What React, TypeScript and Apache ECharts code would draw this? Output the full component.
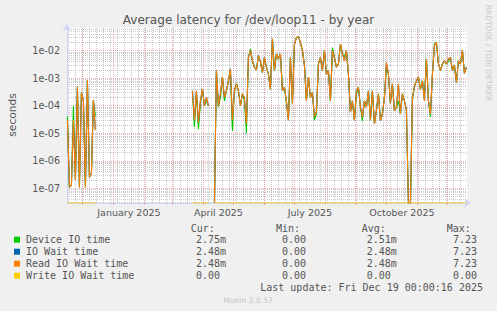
import React, { useEffect, useRef } from 'react';
import * as echarts from 'echarts';

// ---------- texts ----------
const TITLE = 'Average latency for /dev/loop11 - by year';
const Y_NAME = 'seconds';
const WATERMARK = 'RRDTOOL / TOBI OETIKER';
const SERIES_NAMES = ['Device IO time', 'IO Wait time', 'Read IO Wait time', 'Write IO Wait time'];
const SERIES_COLORS = ['#00CC00', '#0066B3', '#FF8000', '#FFCC00'];
const LEGEND_HEADERS = ['Cur:', 'Min:', 'Avg:', 'Max:'];
const LEGEND_CUR = ['2.75m', '2.48m', '2.48m', '0.00'];
const LEGEND_MIN = ['0.00', '0.00', '0.00', '0.00'];
const LEGEND_AVG = ['2.51m', '2.48m', '2.48m', '0.00'];
const LEGEND_MAX = ['7.23', '7.23', '7.23', '0.00'];
const LAST_UPDATE = 'Last update: Fri Dec 19 00:00:16 2025';
const VERSION = 'Munin 2.0.57';

// ---------- axes ----------
const RANGE_START = '2024-11-15T14:00:00Z';
const RANGE_END = '2025-12-20T14:00:00Z';
const MONTH_STARTS = ['2024-12-01', '2025-01-01', '2025-02-01', '2025-03-01', '2025-04-01', '2025-05-01', '2025-06-01', '2025-07-01', '2025-08-01', '2025-09-01', '2025-10-01', '2025-11-01', '2025-12-01'];
const X_LABEL_MONTHS = ['2025-01', '2025-04', '2025-07', '2025-10'];
const X_LABELS = ['January 2025', 'April 2025', 'July 2025', 'October 2025'];
const FIRST_WEEK_LINE = '2024-11-17';
const Y_MIN = 2.92e-8;
const Y_MAX = 0.0667;
const Y_TICKS = [1e-7, 1e-6, 1e-5, 1e-4, 1e-3, 1e-2];

// ---------- data (seconds), one value every 2 days ----------
const STEP_DAYS = 2;
const SEG_STARTS = ['2024-11-16', '2025-03-21', '2025-04-12'];

const deviceA = [4e-5, 1.1e-7, 1.3e-7, 1e-4, 2e-7, 5e-4, 1.1e-7, 3e-4, 1.6e-4, 1.1e-7, 8.6e-4, 2.5e-7, 3.5e-7, 1.6e-4, 4e-5];
const readA = [3e-5, 1.1e-7, 1.3e-7, 3e-5, 2e-7, 5e-4, 1.1e-7, 3e-4, 1.6e-4, 1.1e-7, 8.6e-4, 2.5e-7, 3.5e-7, 1.6e-4, 1.3e-5];
const writeA = [0, 0, 0, 0, 0, 0, 0, 0, 0, 0, 0, 0, 0, 0, 0];

const deviceB = [3.5e-4, 1.7e-5, 3e-4, 1.4e-5, 1.2e-4, 4e-4, 1e-4, 1.5e-4, 1e-4];
const readB = [3.5e-4, 3e-5, 3.5e-4, 2.5e-5, 1.5e-4, 4e-4, 1e-4, 2e-4, 1e-4];
const writeB = [0, 0, 0, 0, 0, 0, 0, 0, 0];

const deviceC = [
  0, 1.9e-3, 9e-5, 2e-4, 1.1e-3, 1.5e-4, 3.5e-4, 8e-4, 2.2e-3, 1.2e-5,
  3.5e-4, 6.2e-4, 3.5e-4, 1e-4, 2.7e-4, 1.5e-4, 1e-5, 5.7e-3, 1.15e-2, 4.3e-3,
  2.5e-3, 2e-3, 6.6e-3, 4e-3, 1.6e-3, 5.7e-3, 2.5e-3, 1.4e-3, 4e-4, 2.7e-2,
  1.9e-3, 7.6e-3, 5e-3, 7.6e-3, 3.5e-4, 4.7e-4, 1.3e-4, 3e-5, 5.7e-3, 1.2e-4,
  1.7e-2, 3e-2, 3.2e-2, 2e-2, 1e-2, 3e-3, 1.5e-4, 1.1e-3, 2e-4, 3e-4,
  3e-5, 5e-5, 3.3e-3, 5.7e-3, 1.9e-3, 1e-2, 1.4e-3, 1.9e-3, 1.5e-4, 1.3e-2,
  5.7e-3, 2.5e-3, 3.3e-3, 1.75e-2, 7.6e-3, 6e-3, 1e-2, 1.4e-3, 6e-5, 1.5e-4,
  3e-5, 2.5e-4, 4.7e-4, 9e-5, 2.8e-5, 1.5e-4, 9e-5, 3.5e-4, 3e-5, 3.5e-4,
  2.2e-5, 6.7e-5, 2.7e-4, 2.9e-5, 5e-5, 2e-4, 2.5e-3, 1.4e-3, 1.2e-4, 6.2e-4,
  6.7e-5, 8.9e-5, 1.5e-4, 5e-5, 2.7e-4, 1.5e-4, 7e-5, 0, 0, 1.5e-4,
  5e-4, 8e-4, 1.1e-3, 4e-4, 8e-4, 2e-4, 5e-3, 1.5e-4, 4e-5, 1.4e-3,
  1.75e-2, 2e-2, 3.3e-3, 1.9e-3, 3.3e-3, 4.3e-3, 3.3e-3, 4e-3, 5.7e-3, 1.9e-3,
  3e-3, 7e-4, 4.3e-3, 3.3e-3, 1e-2, 1.5e-3, 2.5e-3,
];
const readC = [
  0, 1.9e-3, 1e-4, 2.7e-4, 1.1e-3, 2e-4, 3.5e-4, 8e-4, 2.2e-3, 3e-5,
  3.5e-4, 6.2e-4, 3.5e-4, 1e-4, 2.7e-4, 2e-4, 2.2e-5, 5.7e-3, 1e-2, 4.3e-3,
  2.5e-3, 2e-3, 6.6e-3, 4e-3, 1.6e-3, 5.7e-3, 2.5e-3, 1.4e-3, 4e-4, 2.7e-2,
  1.9e-3, 7.6e-3, 5e-3, 7.6e-3, 3.5e-4, 4.7e-4, 1.5e-4, 3e-5, 5.7e-3, 1.2e-4,
  1.7e-2, 3e-2, 3.2e-2, 2e-2, 1e-2, 3e-3, 1.5e-4, 1.1e-3, 2e-4, 3e-4,
  4e-5, 6e-5, 3.3e-3, 5.7e-3, 1.9e-3, 1e-2, 1.4e-3, 1.9e-3, 1.5e-4, 1e-2,
  5.7e-3, 2.5e-3, 3.3e-3, 1.75e-2, 7.6e-3, 4.3e-3, 1e-2, 1.4e-3, 6e-5, 1.5e-4,
  3e-5, 3.5e-4, 4.7e-4, 9e-5, 3.8e-5, 1.5e-4, 9e-5, 3.5e-4, 3e-5, 3.5e-4,
  2.2e-5, 6.7e-5, 2.7e-4, 2.9e-5, 5e-5, 2e-4, 3.8e-3, 1.4e-3, 1.2e-4, 6.2e-4,
  6.7e-5, 8.9e-5, 6.2e-4, 5e-5, 2.7e-4, 1.5e-4, 7e-5, 0, 0, 2e-4,
  5e-4, 8e-4, 1.1e-3, 4e-4, 8e-4, 1.5e-4, 5e-3, 1.5e-4, 5e-5, 1.4e-3,
  1.5e-2, 2e-2, 3.3e-3, 1.9e-3, 3.3e-3, 4.3e-3, 3.3e-3, 5e-3, 5.7e-3, 1.9e-3,
  3e-3, 7e-4, 4.3e-3, 3.3e-3, 1e-2, 1.5e-3, 2.5e-3,
];
const writeC = [
  0, 0, 0, 0, 0, 0, 0, 0, 0, 0, 0, 0, 0, 0, 0, 0, 0, 0, 0, 0,
  0, 0, 0, 0, 0, 0, 0, 0, 0, 0, 0, 0, 0, 0, 0, 0, 0, 0, 0, 0,
  0, 0, 0, 0, 0, 0, 0, 0, 0, 0, 0, 0, 0, 0, 0, 0, 0, 0, 0, 0,
  0, 0, 0, 0, 0, 0, 0, 0, 0, 0, 0, 0, 0, 0, 0, 0, 0, 0, 0, 0,
  0, 0, 0, 0, 0, 0, 0, 0, 0, 0, 0, 0, 0, 0, 0, 0, 0, 0, 0, 0,
  0, 0, 0, 0, 0, 0, 0, 0, 0, 0, 0, 0, 0, 0, 0, 0, 0, 0, 0, 0,
  0, 0, 0, 0, 0, 0, 0,
];
// IO Wait time equals Read IO Wait time (write wait is zero)
const ioWaitA = readA;
const ioWaitB = readB;
const ioWaitC = readC;

// ---------- helpers ----------
const DAY = 86400000;
const ms = (d: string) => Date.parse(d.length <= 10 ? d + 'T00:00:00Z' : d);
const X_MIN = ms(RANGE_START);
const X_MAX = ms(RANGE_END);

function buildSeries(segs: number[][]) {
  const out: any[] = [];
  segs.forEach((vals, si) => {
    const t0 = ms(SEG_STARTS[si]);
    if (si > 0) out.push([t0 - DAY, null]);
    vals.forEach((v, i) => out.push([t0 + i * STEP_DAYS * DAY, Math.max(v, Y_MIN)]));
  });
  return out;
}

const MONTH_TICKS = MONTH_STARTS.map(ms);
const X_LABEL_POS = X_LABEL_MONTHS.map((m) => {
  const [y, mo] = m.split('-').map(Number);
  return (Date.UTC(y, mo - 1, 1) + Date.UTC(y, mo, 1)) / 2;
});
const WEEK_TICKS: number[] = [];
for (let t = ms(FIRST_WEEK_LINE); t < X_MAX; t += 7 * DAY) WEEK_TICKS.push(t);
const Y_MINOR: number[] = [];
for (let k = -8; k <= -1; k++) {
  for (let m = 2; m <= 9; m++) {
    const v = m * Math.pow(10, k);
    if (v > Y_MIN && v < Y_MAX) Y_MINOR.push(v);
  }
}

const FONT = 'DejaVu Sans';
const MONO = 'DejaVu Sans Mono';
const TXT = '#555555';
const MGRID = 'rgba(222,79,79,0.42)';
const GRID = 'rgba(150,150,150,0.5)';
const AXIS = '#CFD6F8';

function txt(x: number, y: number, text: string, opts: any = {}) {
  const align = opts.align || 'left';
  return {
    type: 'text',
    x,
    y,
    rotation: opts.rotation || 0,
    silent: true,
    z: 10,
    style: {
      text,
      x: 0,
      y: 0,
      fill: opts.color || TXT,
      fontFamily: opts.font || FONT,
      fontSize: opts.size || 10,
      align,
      textAlign: align,
      verticalAlign: 'middle',
      textVerticalAlign: 'middle',
    },
  };
}

export default function App() {
  const ref = useRef<HTMLDivElement>(null);
  useEffect(() => {
    const el = ref.current!;
    const chart = echarts.init(el, null, { renderer: 'svg', width: 497, height: 311 });

    const segData = [
      [deviceA, deviceB, deviceC],
      [ioWaitA, ioWaitB, ioWaitC],
      [readA, readB, readC],
      [writeA, writeB, writeC],
    ];

    const graphics: any[] = [];
    graphics.push(txt(248.5, 19.5, TITLE, { align: 'center', size: 12.1 }));
    graphics.push(txt(11.5, 115, Y_NAME, { align: 'center', size: 10.6, rotation: Math.PI / 2 }));
    graphics.push(txt(488, 53, WATERMARK, { align: 'center', size: 7.5, color: '#C8C8C8', rotation: -Math.PI / 2 }));
    const headX = [190.7, 276, 361.7, 446.7];
    LEGEND_HEADERS.forEach((h, i) => graphics.push(txt(headX[i], 228.3, h, { font: MONO })));
    const valX = [196, 282, 366.7, 453];
    const rowY = [239.7, 251.7, 263.7, 275.7];
    SERIES_NAMES.forEach((name, r) => {
      graphics.push({
        type: 'rect',
        shape: { x: 14, y: rowY[r] - 3, width: 6, height: 6 },
        style: { fill: SERIES_COLORS[r] },
        silent: true,
        z: 10,
      });
      graphics.push(txt(26, rowY[r], name, { font: MONO }));
      [LEGEND_CUR, LEGEND_MIN, LEGEND_AVG, LEGEND_MAX].forEach((col, c) =>
        graphics.push(txt(valX[c], rowY[r], col[r], { font: MONO }))
      );
    });
    graphics.push(txt(483, 287.7, LAST_UPDATE, { font: MONO, align: 'right' }));
    graphics.push(txt(248, 300, VERSION, { align: 'center', size: 7.6, color: '#C4C4C4' }));

    chart.setOption({
      animation: false,
      backgroundColor: '#F0F0F0',
      grid: {
        left: 67,
        top: 28,
        width: 400,
        height: 175,
        show: true,
        backgroundColor: '#FFFFFF',
        borderWidth: 0,
      },
      xAxis: [
        {
          type: 'value',
          min: X_MIN,
          max: X_MAX,
          position: 'bottom',
          z: 1,
          axisLine: {
            show: true,
            onZero: false,
            lineStyle: { color: AXIS, width: 1 },
            symbol: ['none', 'arrow'],
            symbolSize: [7, 7],
            symbolOffset: [0, 4],
          },
          axisTick: { show: true, length: 2, inside: false, customValues: MONTH_TICKS, lineStyle: { color: MGRID } },
          splitLine: { show: true, lineStyle: { color: MGRID, width: 1, type: [1, 1] } },
          axisLabel: {
            customValues: X_LABEL_POS,
            margin: 4,
            fontFamily: FONT,
            fontSize: 9.5,
            color: TXT,
            formatter: (v: number) => {
              let best = 0;
              X_LABEL_POS.forEach((p, i) => {
                if (Math.abs(p - v) < Math.abs(X_LABEL_POS[best] - v)) best = i;
              });
              return X_LABELS[best];
            },
          },
        },
        {
          type: 'value',
          min: X_MIN,
          max: X_MAX,
          position: 'top',
          z: 0,
          axisLine: { show: false },
          axisTick: { show: false, customValues: WEEK_TICKS },
          axisLabel: { show: false },
          splitLine: { show: true, lineStyle: { color: GRID, width: 1, type: [1, 1] } },
        },
      ],
      yAxis: [
        {
          type: 'log',
          logBase: 10,
          min: Y_MIN,
          max: Y_MAX,
          position: 'left',
          z: 1,
          axisLine: {
            show: true,
            onZero: false,
            lineStyle: { color: AXIS, width: 1 },
            symbol: ['none', 'arrow'],
            symbolSize: [7, 7],
            symbolOffset: [0, 4],
          },
          axisTick: { show: false, customValues: Y_TICKS },
          splitLine: { show: true, lineStyle: { color: MGRID, width: 1, type: [1, 1] } },
          axisLabel: {
            customValues: Y_TICKS,
            margin: 7,
            fontFamily: FONT,
            fontSize: 9.6,
            color: TXT,
            formatter: (v: number) => '1e-' + String(-Math.round(Math.log10(v))).padStart(2, '0'),
          },
        },
        {
          type: 'log',
          logBase: 10,
          min: Y_MIN,
          max: Y_MAX,
          position: 'right',
          z: 0,
          axisLine: { show: false },
          axisTick: { show: false, customValues: Y_MINOR },
          axisLabel: { show: false },
          splitLine: { show: true, lineStyle: { color: GRID, width: 1, type: [1, 1] } },
        },
      ],
      series: SERIES_NAMES.map((name, i) => ({
        type: 'line',
        name,
        xAxisIndex: 0,
        yAxisIndex: 0,
        data: buildSeries(segData[i]),
        showSymbol: false,
        symbol: 'none',
        connectNulls: false,
        clip: true,
        lineStyle: { width: 1.1, color: SERIES_COLORS[i] },
        itemStyle: { color: SERIES_COLORS[i] },
        z: 3,
      })),
      graphic: graphics,
    });

    return () => chart.dispose();
  }, []);

  return <div ref={ref} style={{ position: 'fixed', left: 0, top: 0, width: 497, height: 311 }} />;
}
